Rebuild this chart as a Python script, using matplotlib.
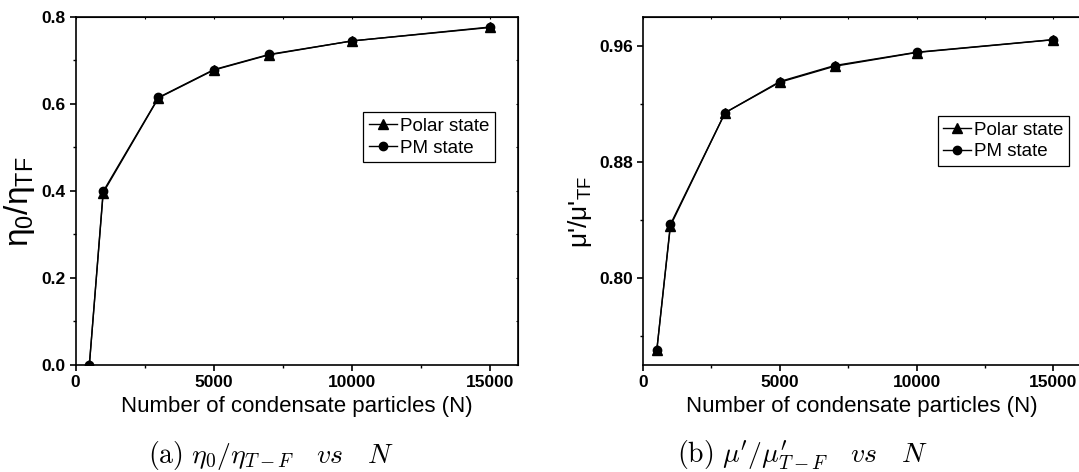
import numpy as np
import matplotlib
matplotlib.use("Agg")
import matplotlib.pyplot as plt
from matplotlib.ticker import MultipleLocator

plt.rcParams['font.family'] = ['Liberation Sans', 'DejaVu Sans']
plt.rcParams['mathtext.fontset'] = 'custom'
plt.rcParams['mathtext.rm'] = 'Liberation Sans'
plt.rcParams['mathtext.it'] = 'Liberation Sans:italic'
plt.rcParams['mathtext.bf'] = 'Liberation Sans:bold'

# Data
N = [500, 1000, 3000, 5000, 7000, 10000, 15000]
eta_polar = [0.0, 0.396, 0.614, 0.678, 0.713, 0.745, 0.776]
eta_pm = [0.0, 0.399, 0.615, 0.679, 0.714, 0.745, 0.777]
mu_polar = [0.750, 0.836, 0.914, 0.935, 0.946, 0.9555, 0.9643]
mu_pm = [0.750, 0.837, 0.914, 0.9355, 0.9465, 0.9557, 0.9644]

legend_labels = ['Polar state', 'PM state']
xlabel = 'Number of condensate particles (N)'

fig = plt.figure(figsize=(10.79, 4.72), dpi=100)
ax1 = fig.add_axes([0.070, 0.2267, 0.4101, 0.7373])
ax2 = fig.add_axes([0.596, 0.2267, 0.4055, 0.7373])


def style_axes(ax, ymajor, yminor):
    ax.set_xlim(0, 16000)
    ax.xaxis.set_major_locator(MultipleLocator(5000))
    ax.xaxis.set_minor_locator(MultipleLocator(2500))
    ax.yaxis.set_major_locator(MultipleLocator(ymajor))
    ax.yaxis.set_minor_locator(MultipleLocator(yminor))
    ax.tick_params(which='major', direction='out', length=4, width=1.2,
                   labelsize=12.5, pad=3)
    ax.tick_params(which='minor', direction='out', length=2.5, width=1.0)
    for lab in ax.get_xticklabels() + ax.get_yticklabels():
        lab.set_fontweight('bold')
    for s in ax.spines.values():
        s.set_linewidth(1.2)
    # small inward ticks on top and right
    top = ax.secondary_xaxis('top')
    top.xaxis.set_major_locator(MultipleLocator(5000))
    top.xaxis.set_minor_locator(MultipleLocator(2500))
    top.tick_params(which='both', direction='in', length=1.5, width=0.8,
                    labeltop=False)
    right = ax.secondary_yaxis('right')
    right.yaxis.set_major_locator(MultipleLocator(ymajor))
    right.yaxis.set_minor_locator(MultipleLocator(yminor))
    right.tick_params(which='both', direction='in', length=1.5, width=0.8,
                      labelright=False)


def draw(ax, polar, pm):
    ax.plot(N, polar, '-^', color='black', lw=1.0, ms=6.5, label=legend_labels[0])
    ax.plot(N, pm, '-o', color='black', lw=1.0, ms=6, label=legend_labels[1])


draw(ax1, eta_polar, eta_pm)
ax1.set_ylim(0, 0.8)
style_axes(ax1, 0.2, 0.1)
ax1.yaxis.set_major_formatter(plt.FuncFormatter(lambda v, p: f'{v:.1f}'))

draw(ax2, mu_polar, mu_pm)
ax2.set_ylim(0.74, 0.98)
style_axes(ax2, 0.08, 0.04)
ax2.yaxis.set_major_formatter(plt.FuncFormatter(lambda v, p: f'{v:.2f}'))

for ax in (ax1, ax2):
    ax.set_xlabel(xlabel, fontsize=16)
    ax.xaxis.set_label_coords(0.5, -0.088)

ax1.set_ylabel(r'η$_\mathregular{0}$/η$_\mathregular{TF}$', fontsize=24)
ax1.yaxis.set_label_coords(-0.086, 0.47)
ax2.set_ylabel(r"μ'/μ'$_\mathregular{TF}$", fontsize=19)
ax2.yaxis.set_label_coords(-0.113, 0.44)

leg_kw = dict(fontsize=13.5, frameon=True, fancybox=False, framealpha=1,
              edgecolor='black', handlelength=1.5, handletextpad=0.15,
              borderpad=0.3, labelspacing=0.25, borderaxespad=0,
              loc='upper left')
l1 = ax1.legend(bbox_to_anchor=(0.650, 0.727), **leg_kw)
l2 = ax2.legend(bbox_to_anchor=(0.673, 0.716), **leg_kw)
for leg in (l1, l2):
    leg.get_frame().set_linewidth(0.9)

fig.text(271 / 1079, 1 - 455 / 472, r'$\mathrm{(a)}\ \eta_0/\eta_{T-F}\quad vs\quad N$',
         math_fontfamily='cm', fontsize=20, ha='center', va='center')
fig.text(802 / 1079, 1 - 455 / 472, r"$\mathrm{(b)}\ \mu^{\prime}/\mu^{\prime}_{T-F}\quad vs\quad N$",
         math_fontfamily='cm', fontsize=20, ha='center', va='center')

fig.savefig('out.png', dpi=100)
